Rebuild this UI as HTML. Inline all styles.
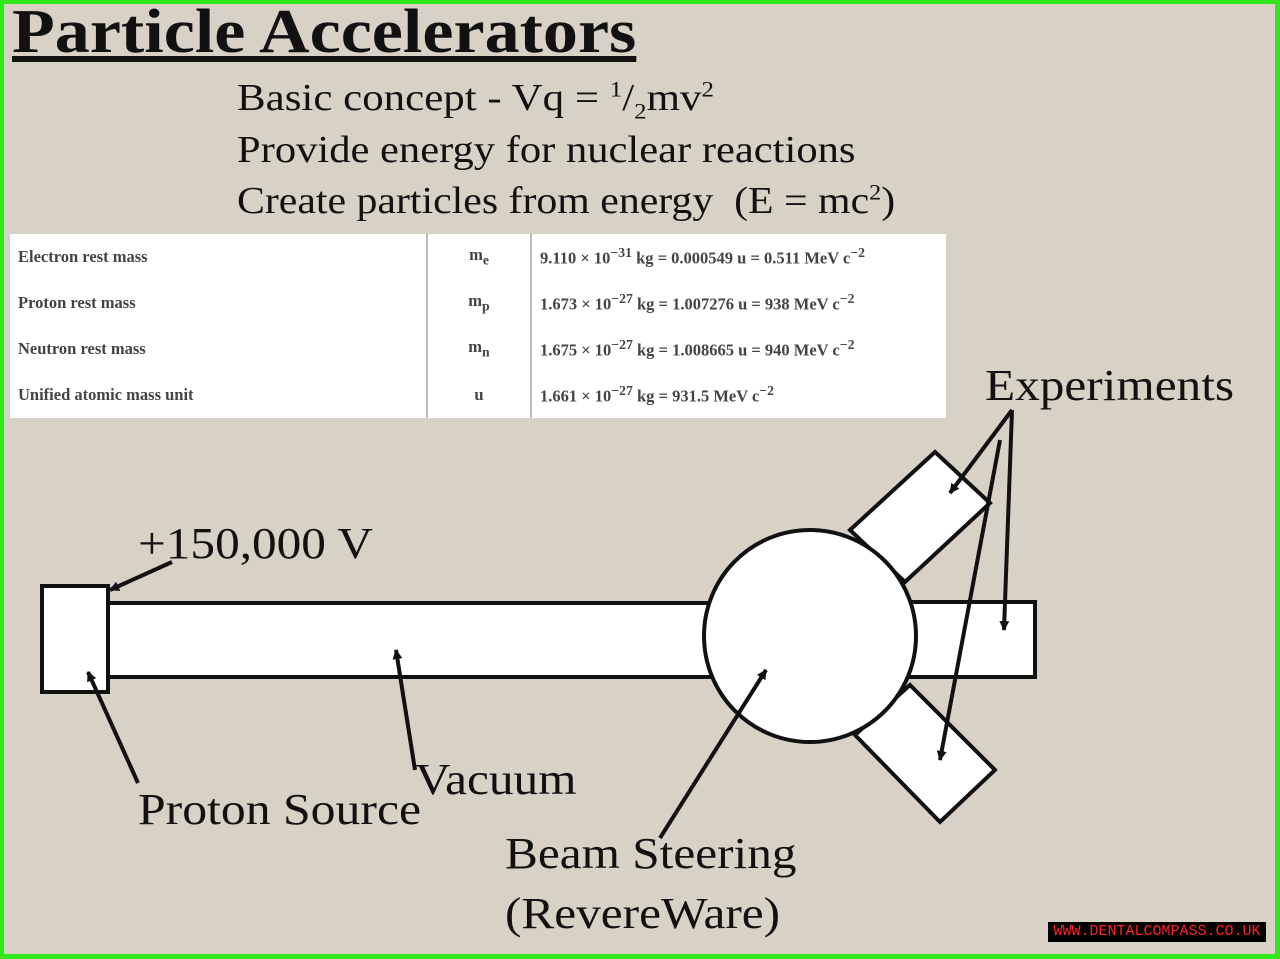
<!DOCTYPE html>
<html><head><style>
html,body{margin:0;padding:0}
body{width:1280px;height:959px;overflow:hidden;background:#2ee81c;position:relative;font-family:"Liberation Serif",serif}
#bg{position:absolute;left:4px;top:4px;width:1271px;height:950px;background:#d8d1c6}
.t{position:absolute;color:#111;white-space:nowrap;transform-origin:0 0}
table{position:absolute;left:10px;top:234px;width:936px;height:184px;border-collapse:collapse;background:#fff;font-size:16.5px;color:#444;font-weight:bold}
td{padding:0 8px;border:none}
td.c{border-left:2px solid #bbb;border-right:2px solid #bbb;text-align:center;width:86px}
#wm{position:absolute;left:1048px;top:922px;width:218px;height:20px;background:#000;color:#f22;font:15px "Liberation Mono",monospace;text-align:center;line-height:20px}
</style></head><body>
<div id="bg"></div>
<div class="t" style="left:12px;top:-3px;font-size:62px;font-weight:bold;text-decoration:underline;transform:scaleX(1.13)">Particle Accelerators</div>
<div class="t" style="left:237px;top:76px;font-size:38px;transform:scaleX(1.13)">Basic concept - Vq = <sup style="font-size:22px">1</sup>/<sub style="font-size:22px">2</sub>mv<sup style="font-size:22px">2</sup></div>
<div class="t" style="left:237px;top:128px;font-size:38px;transform:scaleX(1.12)">Provide energy for nuclear reactions</div>
<div class="t" style="left:237px;top:179px;font-size:38px;transform:scaleX(1.1)">Create particles from energy &nbsp;(E = mc<sup style="font-size:22px">2</sup>)</div>
<table>
<tr><td style="width:400px">Electron rest mass</td><td class="c">m<sub>e</sub></td><td>9.110 × 10<sup>−31</sup> kg = 0.000549 u = 0.511 MeV c<sup>−2</sup></td></tr>
<tr><td>Proton rest mass</td><td class="c">m<sub>p</sub></td><td>1.673 × 10<sup>−27</sup> kg = 1.007276 u = 938 MeV c<sup>−2</sup></td></tr>
<tr><td>Neutron rest mass</td><td class="c">m<sub>n</sub></td><td>1.675 × 10<sup>−27</sup> kg = 1.008665 u = 940 MeV c<sup>−2</sup></td></tr>
<tr><td>Unified atomic mass unit</td><td class="c">u</td><td>1.661 × 10<sup>−27</sup> kg = 931.5 MeV c<sup>−2</sup></td></tr>
</table>
<svg style="position:absolute;left:0;top:0" width="1280" height="959">
<defs><marker id="a" markerWidth="10" markerHeight="10" refX="9" refY="5" orient="auto" markerUnits="userSpaceOnUse" viewBox="0 0 10 10"><path d="M0,0 L10,5 L0,10 z" fill="#111"/></marker></defs>
<g fill="#fff" stroke="#111" stroke-width="4">
<polygon points="850,530 935,452 990,503 905,582"/>
<polygon points="855,735 910,685 995,770 940,822"/>
<rect x="905" y="602" width="130" height="75"/>
<rect x="108" y="603" width="615" height="74"/>
<rect x="42" y="586" width="66" height="106"/>
<circle cx="810" cy="636" r="106"/>
</g>
<g stroke="#111" stroke-width="4" fill="none" marker-end="url(#a)">
<line x1="172" y1="562" x2="110" y2="590"/>
<line x1="138" y1="783" x2="88" y2="672"/>
<line x1="415" y1="770" x2="396" y2="650"/>
<line x1="660" y1="838" x2="766" y2="670"/>
<line x1="1012" y1="410" x2="950" y2="493"/>
<line x1="1012" y1="410" x2="1004" y2="630"/>
<line x1="1000" y1="440" x2="940" y2="760"/>
</g>
</svg>
<div class="t" style="left:985px;top:360px;font-size:44px;transform:scaleX(1.12)">Experiments</div>
<div class="t" style="left:138px;top:518px;font-size:44px;transform:scaleX(1.12)">+150,000 V</div>
<div class="t" style="left:138px;top:784px;font-size:44px;transform:scaleX(1.13)">Proton Source</div>
<div class="t" style="left:415px;top:754px;font-size:44px;transform:scaleX(1.12)">Vacuum</div>
<div class="t" style="left:505px;top:828px;font-size:44px;transform:scaleX(1.12)">Beam Steering</div>
<div class="t" style="left:505px;top:888px;font-size:44px;transform:scaleX(1.12)">(RevereWare)</div>
<div id="wm">WWW.DENTALCOMPASS.CO.UK</div>
</body></html>
